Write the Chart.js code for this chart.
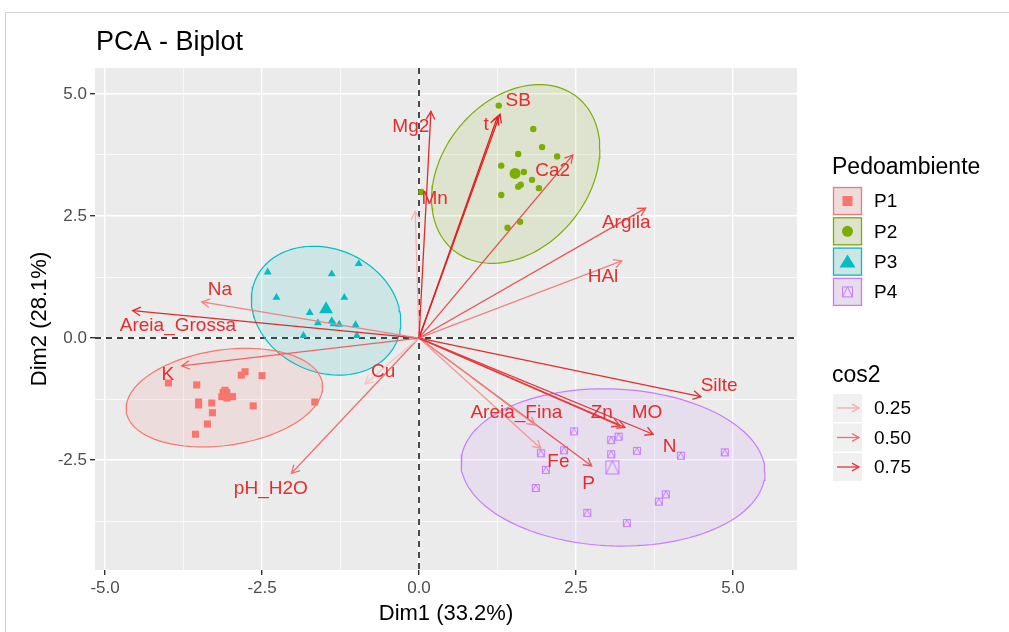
<!DOCTYPE html>
<html>
<head>
<meta charset="utf-8">
<title>PCA - Biplot</title>
<script src="https://cdn.jsdelivr.net/npm/chart.js@4.4.1/dist/chart.umd.min.js"></script>
<style>
  html, body { margin: 0; background: #fff; }
  #wrap { width: 1009px; height: 632px; position: relative; }
</style>
</head>
<body>
<div id="wrap"><canvas id="viz"></canvas></div>
<script>
// Individuals, Dim1 / Dim2 coordinates per pedoambiente
const P1_X = [-3.99, -3.54, -2.83, -2.77, -2.50, -3.09, -3.14, -3.06, -2.97, -3.51, -3.51, -3.30, -2.64, -1.66, -3.29, -3.37, -3.56];
const P1_Y = [-0.92, -0.96, -0.76, -0.69, -0.77, -1.07, -1.20, -1.23, -1.20, -1.31, -1.37, -1.33, -1.39, -1.31, -1.53, -1.76, -1.97];
const P2_X = [1.27, 1.82, 1.96, 1.58, 2.20, 1.31, 1.67, 1.80, 1.62, 1.58, 1.91, 1.31, 1.61, 1.41, 0.04];
const P2_Y = [4.76, 4.28, 3.91, 3.77, 3.72, 3.53, 3.40, 3.24, 3.14, 3.10, 3.07, 2.93, 2.38, 2.26, 2.99];
const P3_X = [-2.41, -1.39, -0.96, -2.27, -1.19, -1.74, -1.61, -1.39, -1.27, -1.01, -1.84, -0.99, -1.36];
const P3_Y = [1.35, 1.31, 1.52, 0.83, 0.83, 0.52, 0.31, 0.35, 0.28, 0.27, 0.05, 0.05, 0.29];
const P4_X = [2.47, 3.06, 3.18, 2.31, 1.94, 3.06, 3.47, 4.17, 4.87, 2.02, 1.86, 3.93, 3.82, 2.68, 3.31];
const P4_Y = [-1.91, -2.09, -2.02, -2.30, -2.36, -2.38, -2.31, -2.41, -2.34, -2.70, -3.07, -3.20, -3.35, -3.58, -3.79];

const groupNames = ['P1', 'P2', 'P3', 'P4'];
const groupColors = ['#F8766D', '#7CAE00', '#00BFC4', '#C77CFF'];
const groupMeanX = [-3.09, 1.53, -1.48, 3.08];
const groupMeanY = [-1.15, 3.37, 0.59, -2.65];

// Concentration ellipses: centre, half extent on each axis, tilt (cos of phase)
const ellCx = [-3.10, 1.54, -1.48, 3.09];
const ellCy = [-1.22, 3.36, 0.56, -2.65];
const ellRx = [1.565, 1.34, 1.19, 2.42];
const ellRy = [1.01, 1.83, 1.32, 1.61];
const ellTilt = [0.22, 0.28, -0.17, -0.06];

// Variables (arrows)
const varNames = ['Mg2', 'Mn', 't', 'SB', 'Ca2', 'Argila', 'HAl', 'Na', 'Areia_Grossa', 'K', 'Cu', 'pH_H2O', 'Silte', 'Zn', 'MO', 'N', 'Areia_Fina', 'Fe', 'P'];
const varX = [0.19, -0.06, 1.25, 1.29, 2.45, 3.61, 3.23, -3.46, -4.56, -3.78, -0.86, -2.03, 4.49, 3.20, 3.28, 3.73, 1.85, 1.94, 2.75];
const varY = [4.64, 2.59, 4.53, 4.58, 3.75, 2.66, 1.58, 0.74, 0.56, -0.57, -0.94, -2.77, -1.20, -1.80, -1.83, -1.97, -1.78, -2.26, -2.62];
const varCos2 = [0.80, 0.22, 0.85, 0.85, 0.65, 0.62, 0.42, 0.42, 0.80, 0.55, 0.15, 0.50, 0.78, 0.72, 0.72, 0.75, 0.40, 0.33, 0.62];
const labelX = [-0.13, 0.25, 1.07, 1.58, 2.13, 3.30, 2.93, -3.17, -3.84, -4.00, -0.57, -2.36, 4.78, 2.91, 3.63, 3.99, 1.55, 2.22, 2.70];
const labelY = [4.32, 2.85, 4.36, 4.86, 3.42, 2.36, 1.25, 0.98, 0.25, -0.76, -0.70, -3.09, -0.98, -1.54, -1.54, -2.23, -1.54, -2.53, -2.98];

const xTicks = [-5, -2.5, 0, 2.5, 5];
const yTicks = [-2.5, 0, 2.5, 5];
const cos2Breaks = [0.25, 0.50, 0.75];

const FONT = '"Liberation Sans", Arial, sans-serif';
const LABEL_RED = 'rgb(230,44,44)';

// cos2 -> colour (light pink to red)
function cos2Color(c) {
  const t = Math.max(0, Math.min(1, (c - 0.1) / 0.8));
  const r = Math.round(249 - t * 22);
  const g = Math.round(206 - t * 190);
  const b = Math.round(206 - t * 188);
  return `rgb(${r},${g},${b})`;
}

function hexA(hex, a) {
  const n = parseInt(hex.slice(1), 16);
  return `rgba(${n >> 16},${(n >> 8) & 255},${n & 255},${a})`;
}

// Square with a triangle inside (R shape 14)
function makeP4Symbol(size) {
  const c = document.createElement('canvas');
  c.width = size + 2; c.height = size + 2;
  const g = c.getContext('2d');
  g.strokeStyle = groupColors[3];
  g.lineWidth = 1;
  g.strokeRect(1.5, 1.5, size - 1, size - 1);
  g.beginPath();
  g.moveTo(1.5, size + 0.5);
  g.lineTo(c.width / 2, 1.5);
  g.lineTo(size + 0.5, size + 0.5);
  g.stroke();
  return c;
}

function ellipsePoints(i) {
  const phi = Math.acos(ellTilt[i]);
  const pts = [];
  for (let k = 0; k <= 120; k++) {
    const t = (k / 120) * Math.PI * 2;
    pts.push({ x: ellCx[i] + ellRx[i] * Math.cos(t), y: ellCy[i] + ellRy[i] * Math.cos(t - phi) });
  }
  return pts;
}

const toPts = (xs, ys) => xs.map((x, i) => ({ x, y: ys[i] }));
const groupX = [P1_X, P2_X, P3_X, P4_X];
const groupY = [P1_Y, P2_Y, P3_Y, P4_Y];
const styles = ['rect', 'circle', 'triangle', makeP4Symbol(8)];
const radii = [5, 3.2, 4.6, 5];
const meanStyles = ['rect', 'circle', 'triangle', makeP4Symbol(14)];
const meanRadii = [7.5, 5.5, 8, 8];

const datasets = [];
// ellipses
groupNames.forEach((g, i) => {
  datasets.push({
    data: ellipsePoints(i), showLine: true, fill: 'shape', tension: 0,
    borderColor: groupColors[i], borderWidth: 1.2, backgroundColor: hexA(groupColors[i], 0.12),
    pointRadius: 0, order: 3
  });
});
// individuals + group means
groupNames.forEach((g, i) => {
  datasets.push({
    data: toPts(groupX[i], groupY[i]), pointStyle: styles[i], pointRadius: radii[i],
    backgroundColor: groupColors[i], borderColor: groupColors[i], borderWidth: 0, order: 2
  });
  datasets.push({
    data: [{ x: groupMeanX[i], y: groupMeanY[i] }], pointStyle: meanStyles[i], pointRadius: meanRadii[i],
    backgroundColor: groupColors[i], borderColor: groupColors[i], borderWidth: 0, order: 2
  });
});
// variable arrows
const arrowStart = datasets.length;
varNames.forEach((v, i) => {
  datasets.push({
    data: [{ x: 0, y: 0 }, { x: varX[i], y: varY[i] }], showLine: true, tension: 0,
    borderColor: cos2Color(varCos2[i]), borderWidth: 1.3, pointRadius: 0, order: 1
  });
});

function arrowHead(ctx, x0, y0, x1, y1, len, color) {
  const a = Math.atan2(y1 - y0, x1 - x0);
  const s = 0.5;
  ctx.strokeStyle = color;
  ctx.lineWidth = 1.3;
  ctx.beginPath();
  ctx.moveTo(x1 - len * Math.cos(a - s), y1 - len * Math.sin(a - s));
  ctx.lineTo(x1, y1);
  ctx.lineTo(x1 - len * Math.cos(a + s), y1 - len * Math.sin(a + s));
  ctx.stroke();
}

const decor = {
  id: 'decor',
  beforeDraw(chart) {
    const { ctx, chartArea: a } = chart;
    ctx.save();
    ctx.fillStyle = '#fff';
    ctx.fillRect(0, 0, chart.width, chart.height);
    ctx.strokeStyle = '#cfcfcf';
    ctx.lineWidth = 1;
    ctx.beginPath();
    ctx.moveTo(5.5, chart.height); ctx.lineTo(5.5, 12.5); ctx.lineTo(chart.width, 12.5);
    ctx.stroke();
    ctx.fillStyle = '#ebebeb';
    ctx.fillRect(a.left, a.top, a.right - a.left, a.bottom - a.top);
    ctx.restore();
  },
  beforeDatasetsDraw(chart) {
    const { ctx, chartArea: a, scales: { x, y } } = chart;
    ctx.save();
    ctx.strokeStyle = '#000';
    ctx.lineWidth = 1.4;
    ctx.setLineDash([6, 5]);
    const px = x.getPixelForValue(0), py = y.getPixelForValue(0);
    ctx.beginPath();
    ctx.moveTo(px, a.top); ctx.lineTo(px, a.bottom);
    ctx.moveTo(a.left, py); ctx.lineTo(a.right, py);
    ctx.stroke();
    ctx.restore();
  },
  afterDatasetsDraw(chart) {
    const { ctx, chartArea: a, scales: { x, y } } = chart;
    ctx.save();
    // arrow heads
    varNames.forEach((v, i) => {
      const pts = chart.getDatasetMeta(arrowStart + i).data;
      arrowHead(ctx, pts[0].x, pts[0].y, pts[1].x, pts[1].y, 9, cos2Color(varCos2[i]));
    });
    // variable labels
    ctx.font = `19px ${FONT}`;
    ctx.textAlign = 'center';
    ctx.textBaseline = 'middle';
    ctx.fillStyle = LABEL_RED;
    varNames.forEach((v, i) => {
      ctx.fillText(v, x.getPixelForValue(labelX[i]), y.getPixelForValue(labelY[i]));
    });

    // titles
    ctx.fillStyle = '#000';
    ctx.textAlign = 'left';
    ctx.textBaseline = 'alphabetic';
    ctx.font = `27px ${FONT}`;
    ctx.fillText('PCA - Biplot', 96, 50);
    ctx.font = `22px ${FONT}`;
    ctx.textAlign = 'center';
    ctx.fillText('Dim1 (33.2%)', (a.left + a.right) / 2, 620);
    ctx.save();
    ctx.translate(46, (a.top + a.bottom) / 2);
    ctx.rotate(-Math.PI / 2);
    ctx.fillText('Dim2 (28.1%)', 0, 0);
    ctx.restore();

    // legend: Pedoambiente
    const lx = 833;
    ctx.textAlign = 'left';
    ctx.font = `23px ${FONT}`;
    ctx.fillText('Pedoambiente', lx - 1, 174);
    ctx.font = `19px ${FONT}`;
    groupNames.forEach((g, i) => {
      const top = 187 + i * 30.3;
      ctx.fillStyle = '#ebebeb';
      ctx.fillRect(lx, top, 29, 28);
      ctx.fillStyle = hexA(groupColors[i], 0.12);
      ctx.fillRect(lx, top, 29, 28);
      ctx.strokeStyle = groupColors[i];
      ctx.lineWidth = 1.3;
      ctx.strokeRect(lx + 0.5, top + 0.5, 28, 27);
      const cx = lx + 14.5, cy = top + 14;
      ctx.fillStyle = groupColors[i];
      if (i === 0) ctx.fillRect(cx - 5, cy - 5, 10, 10);
      if (i === 1) { ctx.beginPath(); ctx.arc(cx, cy, 5.5, 0, Math.PI * 2); ctx.fill(); }
      if (i === 2) { ctx.beginPath(); ctx.moveTo(cx, cy - 7); ctx.lineTo(cx + 8, cy + 6); ctx.lineTo(cx - 8, cy + 6); ctx.closePath(); ctx.fill(); }
      if (i === 3) ctx.drawImage(makeP4Symbol(11), cx - 6.5, cy - 6.5);
      ctx.fillStyle = '#000';
      ctx.textBaseline = 'middle';
      ctx.fillText(g, 874, cy + 1);
      ctx.textBaseline = 'alphabetic';
    });

    // legend: cos2
    ctx.font = `23px ${FONT}`;
    ctx.fillText('cos2', lx - 1, 382);
    ctx.font = `19px ${FONT}`;
    cos2Breaks.forEach((c, i) => {
      const cy = 408 + i * 29.5;
      ctx.fillStyle = '#f0f0f0';
      ctx.fillRect(lx, cy - 14, 29, 28);
      ctx.strokeStyle = cos2Color(c);
      ctx.lineWidth = 1.3;
      ctx.beginPath(); ctx.moveTo(lx + 4, cy); ctx.lineTo(lx + 26, cy); ctx.stroke();
      arrowHead(ctx, lx + 4, cy, lx + 26, cy, 8, cos2Color(c));
      ctx.fillStyle = '#000';
      ctx.textBaseline = 'middle';
      ctx.fillText(c.toFixed(2), 874, cy + 1);
      ctx.textBaseline = 'alphabetic';
    });
    ctx.restore();
  }
};

const isMajor = (v, list) => list.some(t => Math.abs(t - v) < 1e-6);

function axis(min, max, list, fitProp, fitVal) {
  return {
    type: 'linear', min, max,
    border: { display: false },
    ticks: {
      stepSize: 1.25, includeBounds: false, autoSkip: false, maxRotation: 0,
      color: '#4d4d4d', font: { family: FONT, size: 17 }, padding: 3,
      callback: (v) => isMajor(v, list) ? v.toFixed(1) : ''
    },
    grid: {
      color: '#ffffff', drawTicks: true, tickLength: 5,
      lineWidth: (c) => isMajor(c.tick.value, list) ? 1.4 : 0.7,
      tickColor: (c) => isMajor(c.tick.value, list) ? '#333333' : 'rgba(0,0,0,0)'
    },
    afterFit: (s) => { s[fitProp] = fitVal; }
  };
}

new Chart(document.getElementById('viz'), {
  type: 'scatter',
  data: { datasets },
  options: {
    responsive: true, maintainAspectRatio: false, animation: false,
    layout: { padding: { top: 68, right: 212, left: 0, bottom: 0 } },
    plugins: { legend: { display: false }, tooltip: { enabled: false } },
    scales: {
      x: axis(-5.16, 6.02, xTicks, 'height', 62),
      y: axis(-4.75, 5.53, yTicks, 'width', 95)
    }
  },
  plugins: [decor]
});
</script>
</body>
</html>
